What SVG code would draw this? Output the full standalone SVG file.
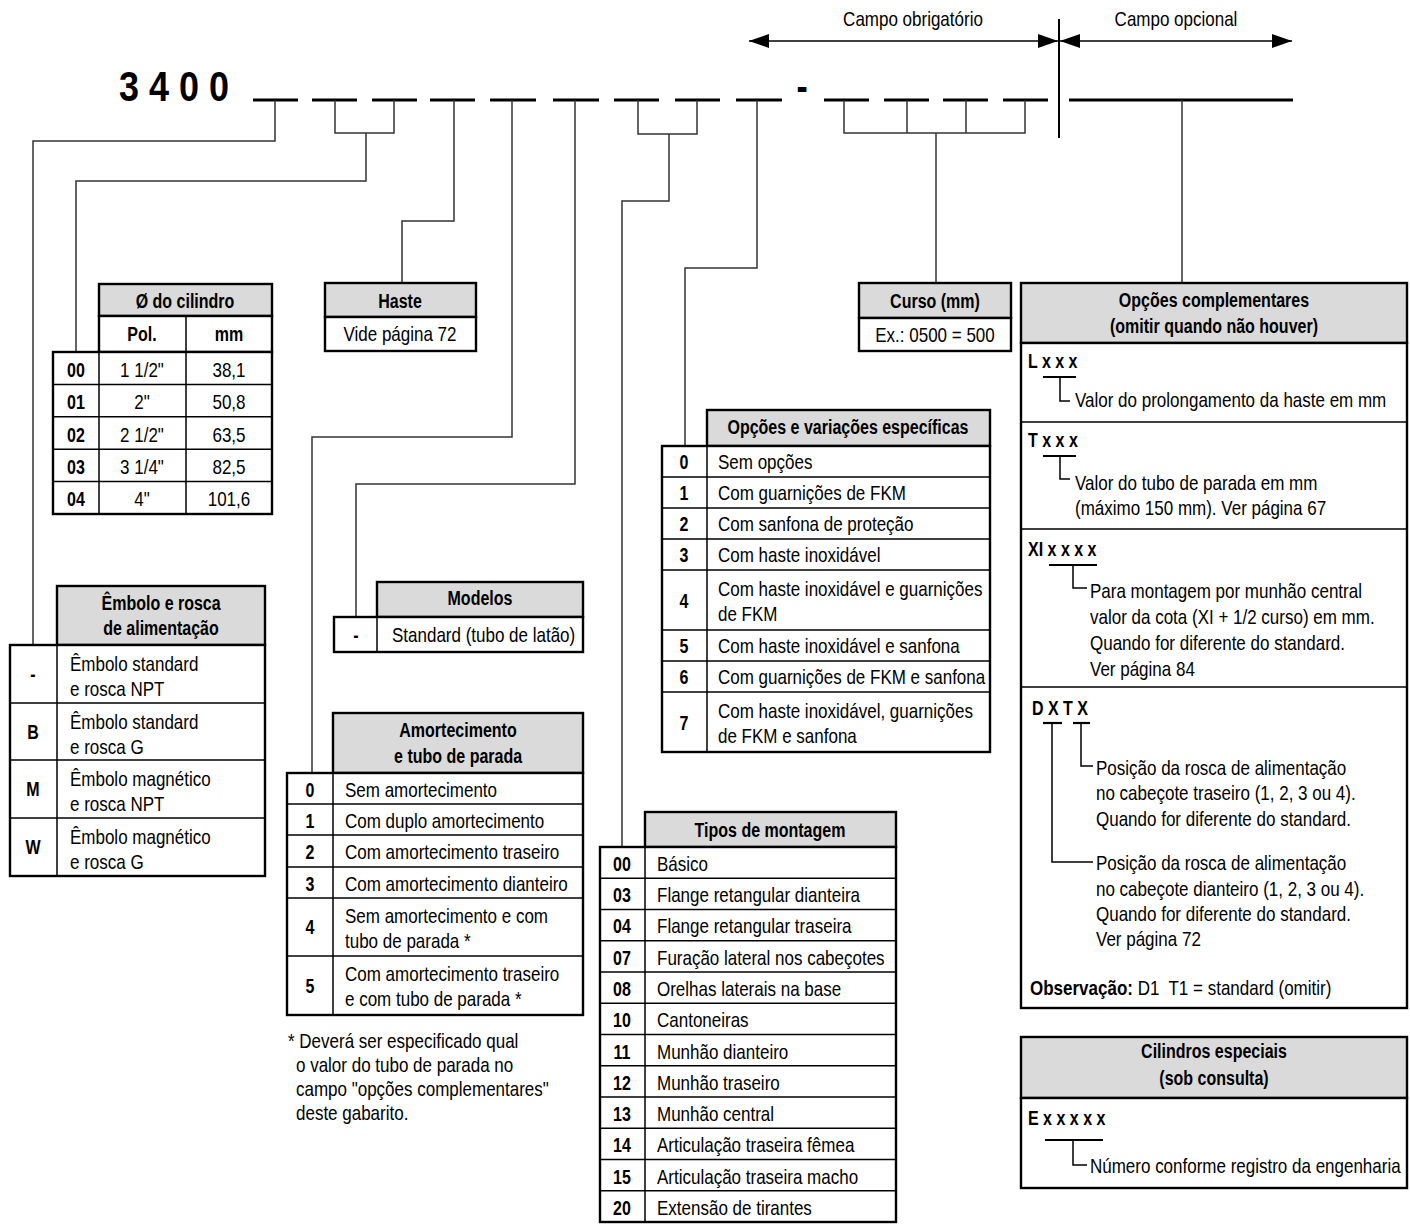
<svg xmlns="http://www.w3.org/2000/svg" width="1410" height="1224" viewBox="0 0 1410 1224">
<style>
text{font-family:"Liberation Sans",Arial,Helvetica,sans-serif;font-size:20px;fill:#000}
.s{transform-box:fill-box;transform-origin:0 50%;transform:scaleX(.85)}
.m{text-anchor:middle;transform-box:fill-box;transform-origin:50% 50%;transform:scaleX(.85)}
.bs{font-weight:bold;transform-box:fill-box;transform-origin:0 50%;transform:scaleX(.8)}
.bm{font-weight:bold;text-anchor:middle;transform-box:fill-box;transform-origin:50% 50%;transform:scaleX(.8)}
.hd{fill:#dadada;stroke:#000;stroke-width:2.4}
.bd{fill:#fff;stroke:#000;stroke-width:2.4}
.tl{stroke:#000;stroke-width:1.5;fill:none}
.cn{stroke:#333;stroke-width:1.5;fill:none}
.ds{stroke:#000;stroke-width:3}
.ul{stroke:#000;stroke-width:2.2}
.ar{stroke:#000;stroke-width:1.5;fill:none}
</style>
<defs>
<marker id="ah" markerUnits="userSpaceOnUse" markerWidth="20" markerHeight="14" refX="20" refY="7" orient="auto-start-reverse" viewBox="0 0 20 14">
<path d="M0,0 L20,7 L0,14 z" fill="#000"/>
</marker>
</defs>

<g id="code">
<text x="119" y="101" style="font-size:42px;font-weight:bold" textLength="110" lengthAdjust="spacingAndGlyphs">3 4 0 0</text>
<g class="ds">
<line x1="253" y1="100" x2="298" y2="100"/>
<line x1="312" y1="100" x2="357" y2="100"/>
<line x1="372" y1="100" x2="417" y2="100"/>
<line x1="430" y1="100" x2="475" y2="100"/>
<line x1="490" y1="100" x2="536" y2="100"/>
<line x1="553" y1="100" x2="599" y2="100"/>
<line x1="614" y1="100" x2="659" y2="100"/>
<line x1="675" y1="100" x2="720" y2="100"/>
<line x1="736" y1="100" x2="782" y2="100"/>
<line x1="824" y1="100" x2="869" y2="100"/>
<line x1="884" y1="100" x2="929" y2="100"/>
<line x1="943" y1="100" x2="988" y2="100"/>
<line x1="1003" y1="100" x2="1048" y2="100"/>
<line x1="1069" y1="100" x2="1293" y2="100"/>
</g>
<text x="802" y="101" class="bm" style="font-size:42px">-</text>
</g>

<g id="campos">
<line x1="1059" y1="19" x2="1059" y2="138" stroke="#000" stroke-width="2"/>
<line class="ar" x1="749" y1="41" x2="1058" y2="41" marker-start="url(#ah)" marker-end="url(#ah)"/>
<line class="ar" x1="1060" y1="41" x2="1292" y2="41" marker-start="url(#ah)" marker-end="url(#ah)"/>
<text x="913" y="26" class="m">Campo obrigatório</text>
<text x="1176" y="26" class="m">Campo opcional</text>
</g>

<g id="connectors" class="cn">
<path d="M275,100 V141 H33 V645"/>
<path d="M335,100 V133 H394 V100 M366,133 V181 H76 V352"/>
<path d="M454,100 V221 H402 V283"/>
<path d="M512,100 V437 H312 V773"/>
<path d="M575,100 V484 H356 V617"/>
<path d="M638,100 V134 H697 V100 M669,134 V201 H622 V847"/>
<path d="M757,100 V268 H685 V446"/>
<path d="M844,100 V133 H1025 V100 M907,100 V133 M966,100 V133 M936,133 V283"/>
<path d="M1182,100 V283"/>
</g>

<g id="cilindro">
<rect x="99" y="284" width="173" height="32" class="hd"/>
<rect x="99" y="316" width="173" height="36" class="bd"/>
<rect x="53" y="352" width="219" height="162" class="bd"/>
<g class="tl">
<line x1="186" y1="316" x2="186" y2="514"/>
<line x1="99" y1="352" x2="99" y2="514"/>
<line x1="53" y1="384.4" x2="272" y2="384.4"/>
<line x1="53" y1="416.8" x2="272" y2="416.8"/>
<line x1="53" y1="449.2" x2="272" y2="449.2"/>
<line x1="53" y1="481.6" x2="272" y2="481.6"/>
</g>
<text x="185" y="308" class="bm">Ø do cilindro</text>
<text x="142" y="341" class="bm">Pol.</text>
<text x="229" y="341" class="bm">mm</text>
<text x="76" y="377" class="bm">00</text><text x="142" y="377" class="m">1 1/2"</text><text x="229" y="377" class="m">38,1</text>
<text x="76" y="409" class="bm">01</text><text x="142" y="409" class="m">2"</text><text x="229" y="409" class="m">50,8</text>
<text x="76" y="442" class="bm">02</text><text x="142" y="442" class="m">2 1/2"</text><text x="229" y="442" class="m">63,5</text>
<text x="76" y="474" class="bm">03</text><text x="142" y="474" class="m">3 1/4"</text><text x="229" y="474" class="m">82,5</text>
<text x="76" y="506" class="bm">04</text><text x="142" y="506" class="m">4"</text><text x="229" y="506" class="m">101,6</text>
</g>

<g id="haste">
<rect x="325" y="283" width="151" height="34" class="hd"/>
<rect x="325" y="317" width="151" height="34" class="bd"/>
<text x="400" y="308" class="bm">Haste</text>
<text x="400" y="341" class="m">Vide página 72</text>
</g>

<g id="curso">
<rect x="859" y="283" width="152" height="35" class="hd"/>
<rect x="859" y="318" width="152" height="33" class="bd"/>
<text x="935" y="308" class="bm">Curso (mm)</text>
<text x="935" y="342" class="m">Ex.: 0500 = 500</text>
</g>

<g id="embolo">
<rect x="57" y="586" width="208" height="59" class="hd"/>
<rect x="10" y="645" width="255" height="231" class="bd"/>
<g class="tl">
<line x1="57" y1="645" x2="57" y2="876"/>
<line x1="10" y1="703" x2="265" y2="703"/>
<line x1="10" y1="760" x2="265" y2="760"/>
<line x1="10" y1="818" x2="265" y2="818"/>
</g>
<text x="161" y="610" class="bm">Êmbolo e rosca</text>
<text x="161" y="635" class="bm">de alimentação</text>
<text x="33" y="681" class="bm">-</text>
<text x="70" y="671" class="s">Êmbolo standard</text><text x="70" y="696" class="s">e rosca NPT</text>
<text x="33" y="739" class="bm">B</text>
<text x="70" y="729" class="s">Êmbolo standard</text><text x="70" y="754" class="s">e rosca G</text>
<text x="33" y="796" class="bm">M</text>
<text x="70" y="786" class="s">Êmbolo magnético</text><text x="70" y="811" class="s">e rosca NPT</text>
<text x="33" y="854" class="bm">W</text>
<text x="70" y="844" class="s">Êmbolo magnético</text><text x="70" y="869" class="s">e rosca G</text>
</g>

<g id="modelos">
<rect x="377" y="582" width="206" height="35" class="hd"/>
<rect x="334" y="617" width="249" height="35" class="bd"/>
<line class="tl" x1="377" y1="617" x2="377" y2="652"/>
<text x="480" y="605" class="bm">Modelos</text>
<text x="356" y="642" class="bm">-</text>
<text x="392" y="642" class="s">Standard (tubo de latão)</text>
</g>

<g id="amortecimento">
<rect x="333" y="713" width="250" height="60" class="hd"/>
<rect x="287" y="773" width="296" height="242" class="bd"/>
<g class="tl">
<line x1="333" y1="773" x2="333" y2="1015"/>
<line x1="287" y1="804" x2="583" y2="804"/>
<line x1="287" y1="835" x2="583" y2="835"/>
<line x1="287" y1="867" x2="583" y2="867"/>
<line x1="287" y1="898" x2="583" y2="898"/>
<line x1="287" y1="956" x2="583" y2="956"/>
</g>
<text x="458" y="737" class="bm">Amortecimento</text>
<text x="458" y="763" class="bm">e tubo de parada</text>
<text x="310" y="797" class="bm">0</text><text x="345" y="797" class="s">Sem amortecimento</text>
<text x="310" y="828" class="bm">1</text><text x="345" y="828" class="s">Com duplo amortecimento</text>
<text x="310" y="859" class="bm">2</text><text x="345" y="859" class="s">Com amortecimento traseiro</text>
<text x="310" y="891" class="bm">3</text><text x="345" y="891" class="s">Com amortecimento dianteiro</text>
<text x="310" y="934" class="bm">4</text><text x="345" y="923" class="s">Sem amortecimento e com</text><text x="345" y="948" class="s">tubo de parada *</text>
<text x="310" y="993" class="bm">5</text><text x="345" y="981" class="s">Com amortecimento traseiro</text><text x="345" y="1006" class="s">e com tubo de parada *</text>
</g>

<g id="nota">
<text x="288" y="1048" class="s">* Deverá ser especificado qual</text>
<text x="296" y="1072" class="s">o valor do tubo de parada no</text>
<text x="296" y="1096" class="s">campo "opções complementares"</text>
<text x="296" y="1120" class="s">deste gabarito.</text>
</g>

<g id="opcoes">
<rect x="707" y="410" width="283" height="36" class="hd"/>
<rect x="662" y="446" width="328" height="306" class="bd"/>
<g class="tl">
<line x1="707" y1="446" x2="707" y2="752"/>
<line x1="662" y1="477" x2="990" y2="477"/>
<line x1="662" y1="508" x2="990" y2="508"/>
<line x1="662" y1="539" x2="990" y2="539"/>
<line x1="662" y1="570" x2="990" y2="570"/>
<line x1="662" y1="630" x2="990" y2="630"/>
<line x1="662" y1="661" x2="990" y2="661"/>
<line x1="662" y1="692" x2="990" y2="692"/>
</g>
<text x="848" y="434" class="bm">Opções e variações específicas</text>
<text x="684" y="469" class="bm">0</text><text x="718" y="469" class="s">Sem opções</text>
<text x="684" y="500" class="bm">1</text><text x="718" y="500" class="s">Com guarnições de FKM</text>
<text x="684" y="531" class="bm">2</text><text x="718" y="531" class="s">Com sanfona de proteção</text>
<text x="684" y="562" class="bm">3</text><text x="718" y="562" class="s">Com haste inoxidável</text>
<text x="684" y="608" class="bm">4</text><text x="718" y="596" class="s">Com haste inoxidável e guarnições</text><text x="718" y="621" class="s">de FKM</text>
<text x="684" y="653" class="bm">5</text><text x="718" y="653" class="s">Com haste inoxidável e sanfona</text>
<text x="684" y="684" class="bm">6</text><text x="718" y="684" class="s">Com guarnições de FKM e sanfona</text>
<text x="684" y="730" class="bm">7</text><text x="718" y="718" class="s">Com haste inoxidável, guarnições</text><text x="718" y="743" class="s">de FKM e sanfona</text>
</g>

<g id="montagem">
<rect x="645" y="812" width="251" height="35" class="hd"/>
<rect x="600" y="847" width="296" height="375" class="bd"/>
<g class="tl">
<line x1="645" y1="847" x2="645" y2="1222"/>
<line x1="600" y1="878.25" x2="896" y2="878.25"/>
<line x1="600" y1="909.5" x2="896" y2="909.5"/>
<line x1="600" y1="940.75" x2="896" y2="940.75"/>
<line x1="600" y1="972" x2="896" y2="972"/>
<line x1="600" y1="1003.25" x2="896" y2="1003.25"/>
<line x1="600" y1="1034.5" x2="896" y2="1034.5"/>
<line x1="600" y1="1065.75" x2="896" y2="1065.75"/>
<line x1="600" y1="1097" x2="896" y2="1097"/>
<line x1="600" y1="1128.25" x2="896" y2="1128.25"/>
<line x1="600" y1="1159.5" x2="896" y2="1159.5"/>
<line x1="600" y1="1190.75" x2="896" y2="1190.75"/>
</g>
<text x="770" y="837" class="bm">Tipos de montagem</text>
<text x="622" y="871" class="bm">00</text><text x="657" y="871" class="s">Básico</text>
<text x="622" y="902" class="bm">03</text><text x="657" y="902" class="s">Flange retangular dianteira</text>
<text x="622" y="933" class="bm">04</text><text x="657" y="933" class="s">Flange retangular traseira</text>
<text x="622" y="965" class="bm">07</text><text x="657" y="965" class="s">Furação lateral nos cabeçotes</text>
<text x="622" y="996" class="bm">08</text><text x="657" y="996" class="s">Orelhas laterais na base</text>
<text x="622" y="1027" class="bm">10</text><text x="657" y="1027" class="s">Cantoneiras</text>
<text x="622" y="1059" class="bm">11</text><text x="657" y="1059" class="s">Munhão dianteiro</text>
<text x="622" y="1090" class="bm">12</text><text x="657" y="1090" class="s">Munhão traseiro</text>
<text x="622" y="1121" class="bm">13</text><text x="657" y="1121" class="s">Munhão central</text>
<text x="622" y="1152" class="bm">14</text><text x="657" y="1152" class="s">Articulação traseira fêmea</text>
<text x="622" y="1184" class="bm">15</text><text x="657" y="1184" class="s">Articulação traseira macho</text>
<text x="622" y="1215" class="bm">20</text><text x="657" y="1215" class="s">Extensão de tirantes</text>
</g>

<g id="complementares">
<rect x="1021" y="283" width="386" height="60" class="hd"/>
<rect x="1021" y="343" width="386" height="665" class="bd"/>
<g class="tl">
<line x1="1021" y1="422" x2="1407" y2="422"/>
<line x1="1021" y1="529" x2="1407" y2="529"/>
<line x1="1021" y1="687" x2="1407" y2="687"/>
</g>
<text x="1214" y="307" class="bm">Opções complementares</text>
<text x="1214" y="333" class="bm">(omitir quando não houver)</text>
<text x="1028" y="368" class="bs">L x x x</text>
<line class="ul" x1="1043" y1="377" x2="1076" y2="377"/>
<path class="tl" d="M1060,377 V401 H1070"/>
<text x="1075" y="407" class="s">Valor do prolongamento da haste em mm</text>
<text x="1028" y="447" class="bs">T x x x</text>
<line class="ul" x1="1043" y1="456" x2="1076" y2="456"/>
<path class="tl" d="M1060,456 V479 H1070"/>
<text x="1075" y="490" class="s">Valor do tubo de parada em mm</text>
<text x="1075" y="515" class="s">(máximo 150 mm). Ver página 67</text>
<text x="1028" y="556" class="bs">XI x x x x</text>
<line class="ul" x1="1049" y1="565" x2="1097" y2="565"/>
<path class="tl" d="M1073,565 V588 H1087"/>
<text x="1090" y="598" class="s">Para montagem por munhão central</text>
<text x="1090" y="624" class="s">valor da cota (XI + 1/2 curso) em mm.</text>
<text x="1090" y="650" class="s">Quando for diferente do standard.</text>
<text x="1090" y="676" class="s">Ver página 84</text>
<text x="1032" y="715" class="bs">D X T X</text>
<line class="ul" x1="1043" y1="723" x2="1062" y2="723"/>
<line class="ul" x1="1073" y1="723" x2="1090" y2="723"/>
<path class="tl" d="M1081,723 V766 H1093"/>
<path class="tl" d="M1052,723 V862 H1093"/>
<text x="1096" y="775" class="s">Posição da rosca de alimentação</text>
<text x="1096" y="800" class="s">no cabeçote traseiro (1, 2, 3 ou 4).</text>
<text x="1096" y="826" class="s">Quando for diferente do standard.</text>
<text x="1096" y="870" class="s">Posição da rosca de alimentação</text>
<text x="1096" y="896" class="s">no cabeçote dianteiro (1, 2, 3 ou 4).</text>
<text x="1096" y="921" class="s">Quando for diferente do standard.</text>
<text x="1096" y="946" class="s">Ver página 72</text>
<text x="1030" y="995" class="s"><tspan font-weight="bold">Observação:</tspan> D1&#160; T1 = standard (omitir)</text>
</g>

<g id="especiais">
<rect x="1021" y="1037" width="386" height="61" class="hd"/>
<rect x="1021" y="1098" width="386" height="90" class="bd"/>
<text x="1214" y="1058" class="bm">Cilindros especiais</text>
<text x="1214" y="1085" class="bm">(sob consulta)</text>
<text x="1028" y="1125" class="bs">E x x x x x</text>
<line class="ul" x1="1045" y1="1140" x2="1103" y2="1140"/>
<path class="tl" d="M1073,1140 V1165 H1087"/>
<text x="1090" y="1173" class="s">Número conforme registro da engenharia</text>
</g>
</svg>
